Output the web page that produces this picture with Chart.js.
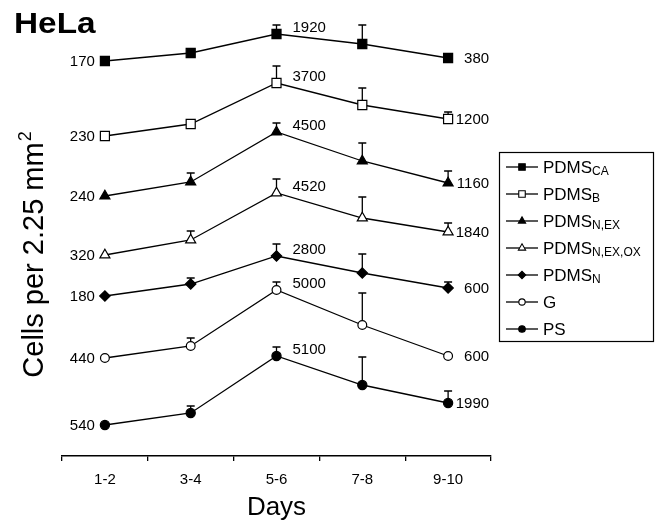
<!DOCTYPE html>
<html>
<head>
<meta charset="utf-8">
<script src="https://cdn.jsdelivr.net/npm/chart.js@4.4.1/dist/chart.umd.min.js"></script>
<style>
  html, body { margin: 0; padding: 0; background: #fff; }
  #wrap { width: 657px; height: 523px; position: relative; }
</style>
</head>
<body>
<div id="wrap"><canvas id="chart"></canvas></div>
<script>
// vertical position of each point = relative height
// (curves are drawn offset from each other, the real counts are the printed numbers)
const days = ["1-2", "3-4", "5-6", "7-8", "9-10"];
const seriesMain = ["PDMS", "PDMS", "PDMS", "PDMS", "PDMS", "G", "PS"];
const seriesSub = ["CA", "B", "N,EX", "N,EX,OX", "N", "", ""];

const posCA = [395, 403, 422, 412, 398];
const posB = [320, 332, 373, 351, 337];
const posNEX = [260, 274, 324, 295, 273];
const posNEXOX = [201, 216, 263, 238, 224];
const posN = [160, 172, 200, 183, 168];
const posG = [98, 110, 166, 131, 100];
const posPS = [31, 43, 100, 71, 53];

// upper error bars, same units
const errCA = [0, 0, 9, 19, 0];
const errB = [0, 4, 17, 17, 7];
const errNEX = [0, 9, 9, 18, 12];
const errNEXOX = [0, 9, 14, 21, 9];
const errN = [0, 6, 12, 19, 6];
const errG = [0, 8, 8, 32, 0];
const errPS = [0, 7, 9, 28, 12];

// cell counts printed next to the curves
const startCounts = [170, 230, 240, 320, 180, 440, 540];
const peakCounts = [1920, 3700, 4500, 4520, 2800, 5000, 5100];
const endCounts = [380, 1200, 1160, 1840, 600, 600, 1990];

const FONT = '"Liberation Sans", Arial, sans-serif';

const markers = [
  { pointStyle: "rect", filled: true, radius: 6.4 },
  { pointStyle: "rect", filled: false, radius: 6.4 },
  { pointStyle: "triangle", filled: true, radius: 5.8 },
  { pointStyle: "triangle", filled: false, radius: 5.8 },
  { pointStyle: "rectRot", filled: true, radius: 5.2 },
  { pointStyle: "circle", filled: false, radius: 4.4 },
  { pointStyle: "circle", filled: true, radius: 4.6 },
];

const positions = [posCA, posB, posNEX, posNEXOX, posN, posG, posPS];
const errors = [errCA, errB, errNEX, errNEXOX, errN, errG, errPS];

const datasets = positions.map((pos, i) => ({
  label: seriesMain[i] + seriesSub[i],
  data: pos,
  errors: errors[i],
  borderColor: "#000",
  borderWidth: 1.3,
  tension: 0,
  fill: false,
  pointStyle: markers[i].pointStyle,
  pointRadius: markers[i].radius,
  pointHoverRadius: markers[i].radius,
  pointBackgroundColor: markers[i].filled ? "#000" : "#fff",
  pointBorderColor: "#000",
  pointBorderWidth: 1.2,
  clip: false,
}));

function drawMarker(ctx, m, x, y, scale) {
  ctx.fillStyle = m.filled ? "#000" : "#fff";
  ctx.strokeStyle = "#000";
  ctx.lineWidth = 1.1;
  Chart.helpers.drawPoint(ctx, {
    pointStyle: m.pointStyle,
    radius: m.radius * scale,
    rotation: 0,
    borderWidth: 1.1,
  }, x, y);
}

const figurePlugin = {
  id: "figureText",
  beforeDatasetsDraw(chart) {
    const ctx = chart.ctx;
    const ys = chart.scales.y;
    ctx.save();
    ctx.strokeStyle = "#000";
    ctx.lineWidth = 1.3;
    chart.data.datasets.forEach((ds, i) => {
      const meta = chart.getDatasetMeta(i);
      ds.errors.forEach((e, j) => {
        if (!e) return;
        const p = meta.data[j];
        const top = ys.getPixelForValue(ds.data[j] + e);
        ctx.beginPath();
        ctx.moveTo(p.x, p.y);
        ctx.lineTo(p.x, top);
        ctx.moveTo(p.x - 4, top);
        ctx.lineTo(p.x + 4, top);
        ctx.stroke();
      });
    });
    ctx.restore();
  },
  afterDraw(chart) {
    const ctx = chart.ctx;
    ctx.save();
    ctx.fillStyle = "#000";

    // panel title (wide heavy face in the original)
    ctx.save();
    ctx.translate(14, 33);
    ctx.scale(1.15, 1);
    ctx.font = `bold 29px ${FONT}`;
    ctx.textAlign = "left";
    ctx.textBaseline = "alphabetic";
    ctx.fillText("HeLa", 0, 0);
    ctx.restore();

    // y title with superscript
    ctx.save();
    ctx.translate(35, 255);
    ctx.rotate(-Math.PI / 2);
    const yMain = "Cells per 2.25 mm";
    ctx.font = `29px ${FONT}`;
    const w1 = ctx.measureText(yMain).width;
    ctx.font = `18px ${FONT}`;
    const w2 = ctx.measureText("2").width;
    const x0 = -(w1 + w2) / 2;
    ctx.textBaseline = "middle";
    ctx.font = `29px ${FONT}`;
    ctx.fillText(yMain, x0, 0);
    ctx.font = `18px ${FONT}`;
    ctx.fillText("2", x0 + w1 + 1, -9);
    ctx.restore();

    // printed counts
    ctx.font = `15px ${FONT}`;
    ctx.textBaseline = "middle";
    chart.data.datasets.forEach((ds, i) => {
      const pts = chart.getDatasetMeta(i).data;
      ctx.textAlign = "right";
      ctx.fillText(String(startCounts[i]), pts[0].x - 10, pts[0].y + 1);
      ctx.textAlign = "left";
      ctx.fillText(String(peakCounts[i]), pts[2].x + 16, pts[2].y - 6);
      ctx.textAlign = "right";
      ctx.fillText(String(endCounts[i]), pts[4].x + 41, pts[4].y + 1);
    });

    // legend
    ctx.strokeStyle = "#000";
    ctx.lineWidth = 1.2;
    ctx.strokeRect(499.5, 152.5, 154, 189);
    seriesMain.forEach((name, i) => {
      const y = 167 + 27 * i;
      ctx.beginPath();
      ctx.strokeStyle = "#000";
      ctx.lineWidth = 1.3;
      ctx.moveTo(506, y);
      ctx.lineTo(538, y);
      ctx.stroke();
      drawMarker(ctx, markers[i], 522, y, 0.72);
      ctx.fillStyle = "#000";
      ctx.textAlign = "left";
      ctx.textBaseline = "middle";
      ctx.font = `17px ${FONT}`;
      ctx.fillText(name, 543, y + 1);
      if (seriesSub[i]) {
        const w = ctx.measureText(name).width;
        ctx.font = `12px ${FONT}`;
        ctx.fillText(seriesSub[i], 543 + w, y + 5);
      }
    });
    ctx.restore();
  },
};

new Chart(document.getElementById("chart"), {
  type: "line",
  data: { labels: days, datasets },
  options: {
    responsive: true,
    maintainAspectRatio: false,
    animation: false,
    layout: { padding: { left: 62, right: 166, top: 10, bottom: 0 } },
    plugins: {
      legend: { display: false },
      tooltip: { enabled: false },
      title: { display: false },
    },
    scales: {
      x: {
        type: "category",
        offset: true,
        afterFit(s) { s.height = 67; },
        grid: {
          offset: true,
          drawOnChartArea: false,
          drawTicks: true,
          tickLength: 5,
          color: "#000",
          lineWidth: 1.3,
        },
        border: { display: true, color: "#000", width: 1.5 },
        ticks: {
          color: "#000",
          padding: 10,
          font: { family: FONT, size: 15 },
          maxRotation: 0,
        },
        title: {
          display: true,
          text: "Days",
          color: "#000",
          font: { family: FONT, size: 26 },
          padding: { top: 0, bottom: 0 },
        },
      },
      y: {
        display: false,
        min: 0,
        max: 446,
      },
    },
  },
  plugins: [figurePlugin],
});
</script>
</body>
</html>
